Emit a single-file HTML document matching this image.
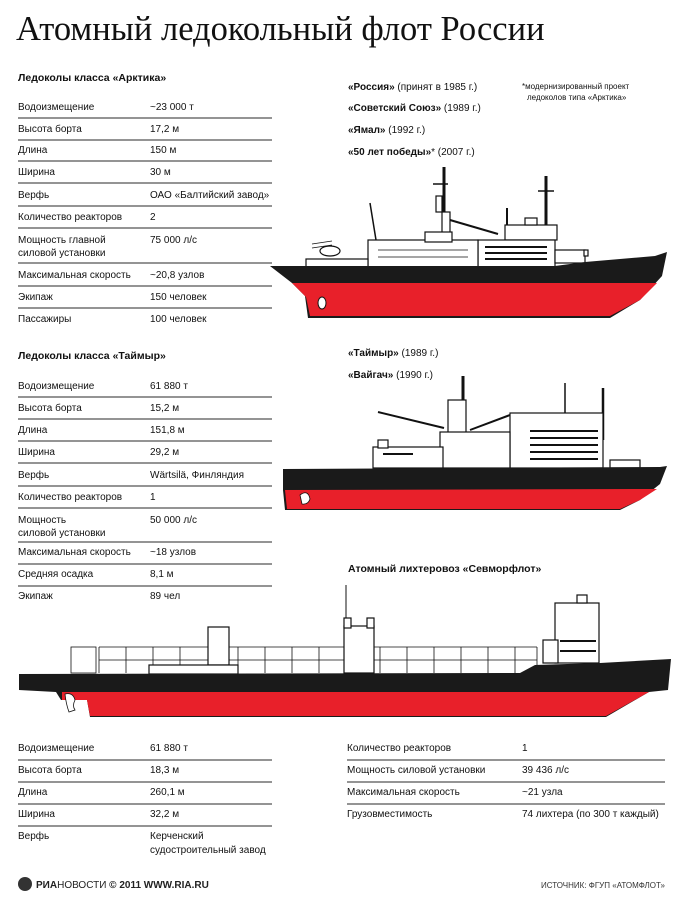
<!DOCTYPE html>
<html><head><meta charset="utf-8"><style>
body{margin:0;background:#fff;}
svg{display:block;font-family:"Liberation Sans",sans-serif;}
.t{font-size:10px;fill:#111;}
.h{font-size:10.5px;font-weight:bold;fill:#111;}
.l{stroke:#555;stroke-width:1.3;}
.w{fill:#fff;stroke:#111;stroke-width:1.2;}
.tn{fill:none;stroke:#111;stroke-width:0.8;}
</style></head><body>
<svg width="675" height="902" viewBox="0 0 675 902">
<text x="16" y="40" font-family="Liberation Serif,serif" font-size="34.5" fill="#111">Атомный ледокольный флот России</text>

<text class="h" x="18" y="81">Ледоколы класса «Арктика»</text>
<g class="t">
<text x="18" y="110">Водоизмещение</text><text x="150" y="110">~23 000 т</text>
<text x="18" y="132">Высота борта</text><text x="150" y="132">17,2 м</text>
<text x="18" y="153">Длина</text><text x="150" y="153">150 м</text>
<text x="18" y="175">Ширина</text><text x="150" y="175">30 м</text>
<text x="18" y="198">Верфь</text><text x="150" y="198">ОАО «Балтийский завод»</text>
<text x="18" y="220">Количество реакторов</text><text x="150" y="220">2</text>
<text x="18" y="243">Мощность главной</text><text x="18" y="256">силовой установки</text><text x="150" y="243">75 000 л/с</text>
<text x="18" y="278">Максимальная скорость</text><text x="150" y="278">~20,8 узлов</text>
<text x="18" y="300">Экипаж</text><text x="150" y="300">150 человек</text>
<text x="18" y="322">Пассажиры</text><text x="150" y="322">100 человек</text>
</g>
<g class="l">
<line x1="18" x2="272" y1="118" y2="118"/><line x1="18" x2="272" y1="140" y2="140"/><line x1="18" x2="272" y1="161" y2="161"/><line x1="18" x2="272" y1="183" y2="183"/><line x1="18" x2="272" y1="206" y2="206"/><line x1="18" x2="272" y1="228" y2="228"/><line x1="18" x2="272" y1="263" y2="263"/><line x1="18" x2="272" y1="286" y2="286"/><line x1="18" x2="272" y1="308" y2="308"/>
</g>

<g class="t">
<text x="348" y="90"><tspan font-weight="bold">«Россия»</tspan> (принят в 1985 г.)</text>
<text x="348" y="111"><tspan font-weight="bold">«Советский Союз»</tspan> (1989 г.)</text>
<text x="348" y="133"><tspan font-weight="bold">«Ямал»</tspan> (1992 г.)</text>
<text x="348" y="155"><tspan font-weight="bold">«50 лет победы»</tspan>* (2007 г.)</text>
<text x="522" y="89" font-size="8">*модернизированный проект</text>
<text x="527" y="100" font-size="8">ледоколов типа «Арктика»</text>
</g>

<g>
<rect class="w" x="442" y="212" width="8" height="55"/>
<rect class="w" x="436" y="196" width="6" height="16"/>
<line x1="444" y1="167" x2="444" y2="212" stroke="#111" stroke-width="3"/>
<line x1="433" y1="184" x2="448" y2="184" stroke="#111" stroke-width="1.5"/>
<line x1="546" y1="176" x2="546" y2="225" stroke="#111" stroke-width="3"/>
<line x1="538" y1="191" x2="554" y2="191" stroke="#111" stroke-width="1.5"/>
<line x1="507" y1="208" x2="507" y2="225" stroke="#111" stroke-width="2"/>
<line x1="370" y1="203" x2="376" y2="240" stroke="#111" stroke-width="1.5"/>
<line x1="450" y1="220" x2="498" y2="234" stroke="#111" stroke-width="2"/>
<rect class="w" x="505" y="225" width="52" height="15"/>
<rect class="w" x="525" y="218" width="12" height="7"/>
<rect class="w" x="478" y="240" width="77" height="28"/>
<rect class="w" x="368" y="240" width="110" height="28"/>
<rect class="w" x="425" y="232" width="27" height="10"/>
<rect class="w" x="306" y="259" width="62" height="9"/>
<rect class="w" x="555" y="250" width="30" height="13"/>
<rect class="w" x="584" y="250" width="4" height="6"/>
<path class="tn" d="M378 250 h90 M378 257 h90 M312 244 l20 -3 M312 248 l20 -3"/>
<ellipse class="w" cx="330" cy="251" rx="10" ry="5"/>
<g fill="#111"><rect x="485" y="246" width="62" height="2"/><rect x="485" y="252" width="62" height="2"/><rect x="485" y="258" width="62" height="2"/></g>
<path d="M270 266 L555 266 L585 262 L655 256 L667 252 L662 276 L640 300 L610 318 L308 318 L305 296 L292 283 Z" fill="#1a1a1a"/>
<path d="M292 283 L657 283 L640 300 L610 316 L310 316 L306 297 Z" fill="#e8202a"/>
<ellipse cx="322" cy="303" rx="4" ry="6" fill="#fff" stroke="#111"/>
</g>

<text class="h" x="18" y="359">Ледоколы класса «Таймыр»</text>
<g class="t">
<text x="18" y="389">Водоизмещение</text><text x="150" y="389">61 880 т</text>
<text x="18" y="411">Высота борта</text><text x="150" y="411">15,2 м</text>
<text x="18" y="433">Длина</text><text x="150" y="433">151,8 м</text>
<text x="18" y="455">Ширина</text><text x="150" y="455">29,2 м</text>
<text x="18" y="478">Верфь</text><text x="150" y="478">Wärtsilä, Финляндия</text>
<text x="18" y="500">Количество реакторов</text><text x="150" y="500">1</text>
<text x="18" y="523">Мощность</text><text x="18" y="536">силовой установки</text><text x="150" y="523">50 000 л/с</text>
<text x="18" y="555">Максимальная скорость</text><text x="150" y="555">~18 узлов</text>
<text x="18" y="577">Средняя осадка</text><text x="150" y="577">8,1 м</text>
<text x="18" y="599">Экипаж</text><text x="150" y="599">89 чел</text>
</g>
<g class="l">
<line x1="18" x2="272" y1="397" y2="397"/><line x1="18" x2="272" y1="419" y2="419"/><line x1="18" x2="272" y1="441" y2="441"/><line x1="18" x2="272" y1="463" y2="463"/><line x1="18" x2="272" y1="486" y2="486"/><line x1="18" x2="272" y1="508" y2="508"/><line x1="18" x2="272" y1="542" y2="542"/><line x1="18" x2="272" y1="564" y2="564"/><line x1="18" x2="272" y1="586" y2="586"/>
</g>
<g class="t">
<text x="348" y="356"><tspan font-weight="bold">«Таймыр»</tspan> (1989 г.)</text>
<text x="348" y="378"><tspan font-weight="bold">«Вайгач»</tspan> (1990 г.)</text>
</g>

<g>
<line x1="463" y1="376" x2="463" y2="430" stroke="#111" stroke-width="3"/>
<line x1="603" y1="388" x2="603" y2="440" stroke="#111" stroke-width="2.5"/>
<line x1="565" y1="383" x2="565" y2="415" stroke="#111" stroke-width="1.5"/>
<line x1="378" y1="412" x2="444" y2="428" stroke="#111" stroke-width="2"/>
<line x1="470" y1="430" x2="510" y2="415" stroke="#111" stroke-width="2"/>
<rect class="w" x="448" y="400" width="18" height="40"/>
<rect class="w" x="510" y="413" width="93" height="55"/>
<rect class="w" x="440" y="432" width="70" height="36"/>
<rect class="w" x="373" y="447" width="70" height="21"/>
<rect class="w" x="378" y="440" width="10" height="8"/>
<rect class="w" x="610" y="460" width="30" height="8"/>
<g fill="#111"><rect x="530" y="430" width="68" height="2"/><rect x="530" y="437" width="68" height="2"/><rect x="530" y="444" width="68" height="2"/><rect x="530" y="451" width="68" height="2"/><rect x="530" y="458" width="68" height="2"/><rect x="383" y="453" width="30" height="2"/></g>
<path d="M283 469 L660 467 L667 466 L660 484 L640 500 L620 510 L285 510 L283 490 Z" fill="#1a1a1a"/>
<path d="M285 490 L657 489 L640 500 L620 509 L287 509 Z" fill="#e8202a"/>
<path d="M300 495 q8 -6 10 4 q-2 6 -8 5 Z" fill="#fff" stroke="#111" stroke-width="0.8"/>
</g>

<text class="h" x="348" y="572">Атомный лихтеровоз «Севморфлот»</text>
<g>
<g class="tn">
<rect x="71" y="647" width="25" height="26"/>
<path d="M99 647 v26 M126 647 v26 M153 647 v26 M180 647 v26 M238 647 v26 M265 647 v26 M292 647 v26 M319 647 v26 M380 647 v26 M407 647 v26 M434 647 v26 M461 647 v26 M488 647 v26 M515 647 v26 M537 647 v26 M99 647 H537 M99 660 H537"/>
</g>
<line x1="346" y1="585" x2="346" y2="620" stroke="#111" stroke-width="1"/>
<rect class="w" x="344" y="626" width="30" height="47"/>
<rect class="w" x="344" y="618" width="7" height="10"/><rect class="w" x="367" y="618" width="7" height="10"/>
<rect class="w" x="208" y="627" width="21" height="38"/>
<rect class="w" x="149" y="665" width="89" height="9"/>
<rect class="w" x="555" y="603" width="44" height="60"/>
<rect class="w" x="543" y="640" width="15" height="23"/>
<rect class="w" x="577" y="595" width="10" height="8"/>
<g fill="#111"><rect x="560" y="640" width="36" height="2"/><rect x="560" y="650" width="36" height="2"/></g>
<path d="M19 674 L520 673 L535 665 L600 663 L671 659 L668 690 L649 692 L606 717 L90 717 L87 700 L61 700 L56 692 L19 690 Z" fill="#1a1a1a"/>
<path d="M62 692 L649 692 L606 716 L90 716 L87 700 L62 700 Z" fill="#e8202a"/>
<path d="M65 694 q8 -2 10 6 q-3 6 0 10 l-6 2 q-3 -8 -4 -18 Z" fill="#fff" stroke="#111" stroke-width="0.8"/>
</g>

<g class="t">
<text x="18" y="751">Водоизмещение</text><text x="150" y="751">61 880 т</text>
<text x="18" y="773">Высота борта</text><text x="150" y="773">18,3 м</text>
<text x="18" y="795">Длина</text><text x="150" y="795">260,1 м</text>
<text x="18" y="817">Ширина</text><text x="150" y="817">32,2 м</text>
<text x="18" y="839">Верфь</text><text x="150" y="839">Керченский</text><text x="150" y="853">судостроительный завод</text>
<text x="347" y="751">Количество реакторов</text><text x="522" y="751">1</text>
<text x="347" y="773">Мощность силовой установки</text><text x="522" y="773">39 436 л/с</text>
<text x="347" y="795">Максимальная скорость</text><text x="522" y="795">~21 узла</text>
<text x="347" y="817">Грузовместимость</text><text x="522" y="817">74 лихтера (по 300 т каждый)</text>
</g>
<g class="l">
<line x1="18" x2="272" y1="760" y2="760"/><line x1="18" x2="272" y1="782" y2="782"/><line x1="18" x2="272" y1="804" y2="804"/><line x1="18" x2="272" y1="826" y2="826"/>
<line x1="347" x2="665" y1="760" y2="760"/><line x1="347" x2="665" y1="782" y2="782"/><line x1="347" x2="665" y1="804" y2="804"/>
</g>

<circle cx="25" cy="884" r="7" fill="#333"/>
<text x="36" y="888" font-size="10" font-weight="bold" fill="#222">РИА<tspan font-weight="normal">НОВОСТИ</tspan> © 2011 WWW.RIA.RU</text>
<text x="665" y="888" font-size="8" fill="#333" text-anchor="end">ИСТОЧНИК: ФГУП «АТОМФЛОТ»</text>
</svg>
</body></html>
